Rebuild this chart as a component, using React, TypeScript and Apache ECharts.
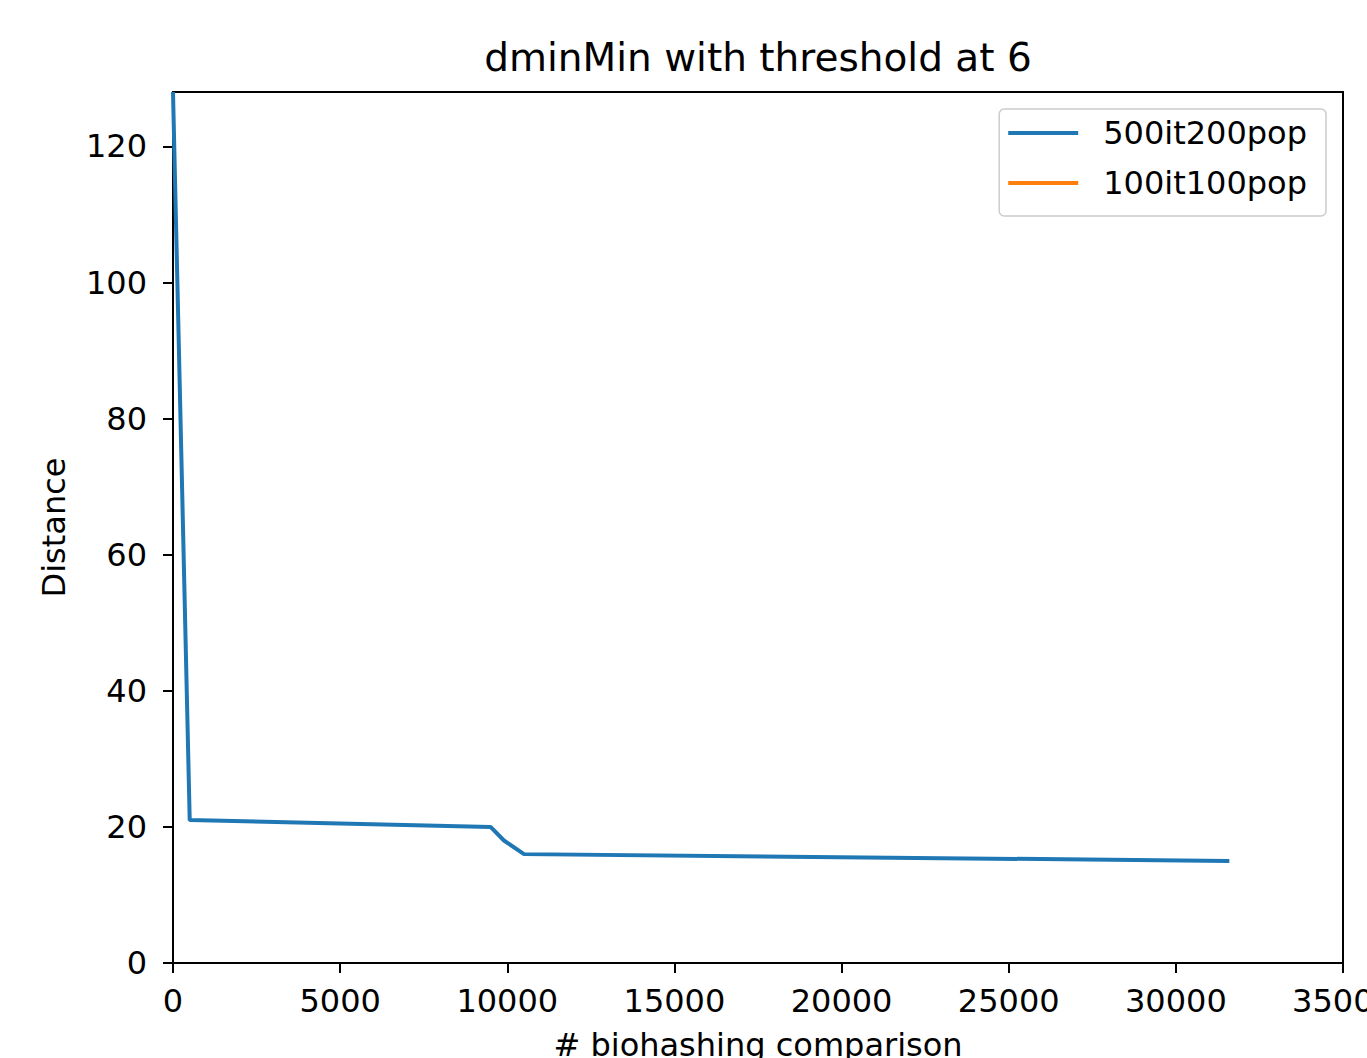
import React, { useEffect, useRef } from "react";
import * as echarts from "echarts";

const titleText = "dminMin with threshold at 6";
const xAxisName = "# biohashing comparison";
const yAxisName = "Distance";
const seriesNames = ["500it200pop", "100it100pop"];
const seriesColors = ["#1f77b4", "#ff7f0e"];
const xValuesA = [0, 500, 9500, 9900, 10500, 31600];
const yValuesA = [128, 21, 20, 18, 16, 15];
const xValuesB: number[] = [];
const yValuesB: number[] = [];

const FONT = "DejaVu Sans";

export default function App() {
  const ref = useRef<HTMLDivElement>(null);
  useEffect(() => {
    document.body.style.margin = "0";
    const chart = echarts.init(ref.current!, null, { renderer: "svg" });
    const dataA = xValuesA.map((x, i) => [x, yValuesA[i]]);
    const dataB = xValuesB.map((x, i) => [x, yValuesB[i]]);
    chart.setOption({
      animation: false,
      backgroundColor: "#ffffff",
      textStyle: { fontFamily: FONT },
      graphic: [
        {
          type: "text",
          x: 758,
          y: 57,
          style: {
            text: titleText,
            fontFamily: FONT,
            fontSize: 39,
            fill: "#000",
            textAlign: "center",
            textVerticalAlign: "middle",
          },
        },
      ],
      grid: {
        left: 173,
        top: 92,
        right: 24,
        bottom: 95,
        containLabel: false,
        outerBoundsMode: "none",
        show: true,
        borderColor: "#000",
        borderWidth: 2,
        backgroundColor: "transparent",
      },
      legend: {
        orient: "vertical",
        right: 41,
        top: 109,
        data: seriesNames.map((n) => ({ name: n, icon: "rect" })),
        itemWidth: 70,
        itemHeight: 4,
        itemGap: 18,
        padding: [8, 19, 17, 9],
        borderColor: "#cccccc",
        borderWidth: 1.5,
        borderRadius: 5,
        backgroundColor: "rgba(255,255,255,0.8)",
        textStyle: { fontFamily: FONT, fontSize: 32, color: "#000", padding: [0, 0, 0, 20] },
      },
      xAxis: {
        type: "value",
        min: 0,
        max: 35000,
        interval: 5000,
        name: xAxisName,
        nameLocation: "middle",
        nameGap: 66,
        nameTextStyle: { fontFamily: FONT, fontSize: 32, color: "#000" },
        axisLine: { show: true, onZero: false, lineStyle: { color: "#000", width: 2 } },
        axisTick: { show: true, inside: false, length: 10, lineStyle: { color: "#000", width: 2 } },
        axisLabel: {
          fontFamily: FONT,
          fontSize: 32,
          color: "#000",
          margin: 22,
          showMaxLabel: true,
          formatter: (v: number) => String(v),
        },
        splitLine: { show: false },
      },
      yAxis: {
        type: "value",
        min: 0,
        max: 128,
        interval: 20,
        name: yAxisName,
        nameLocation: "middle",
        nameGap: 103,
        nameTextStyle: { fontFamily: FONT, fontSize: 32, color: "#000" },
        axisLine: { show: true, onZero: false, lineStyle: { color: "#000", width: 2 } },
        axisTick: { show: true, inside: false, length: 10, lineStyle: { color: "#000", width: 2 } },
        axisLabel: {
          fontFamily: FONT,
          fontSize: 32,
          color: "#000",
          margin: 26,
          showMaxLabel: false,
          formatter: (v: number) => String(v),
        },
        splitLine: { show: false },
      },
      series: [
        {
          name: seriesNames[0],
          type: "line",
          data: dataA,
          symbol: "none",
          showSymbol: false,
          color: seriesColors[0],
          itemStyle: { color: seriesColors[0] },
          lineStyle: { color: seriesColors[0], width: 4 },
          clip: true,
        },
        {
          name: seriesNames[1],
          type: "line",
          data: dataB,
          symbol: "none",
          showSymbol: false,
          color: seriesColors[1],
          itemStyle: { color: seriesColors[1] },
          lineStyle: { color: seriesColors[1], width: 4 },
          clip: true,
        },
      ],
    });
    return () => chart.dispose();
  }, []);
  return <div ref={ref} style={{ width: 1367, height: 1058 }} />;
}
